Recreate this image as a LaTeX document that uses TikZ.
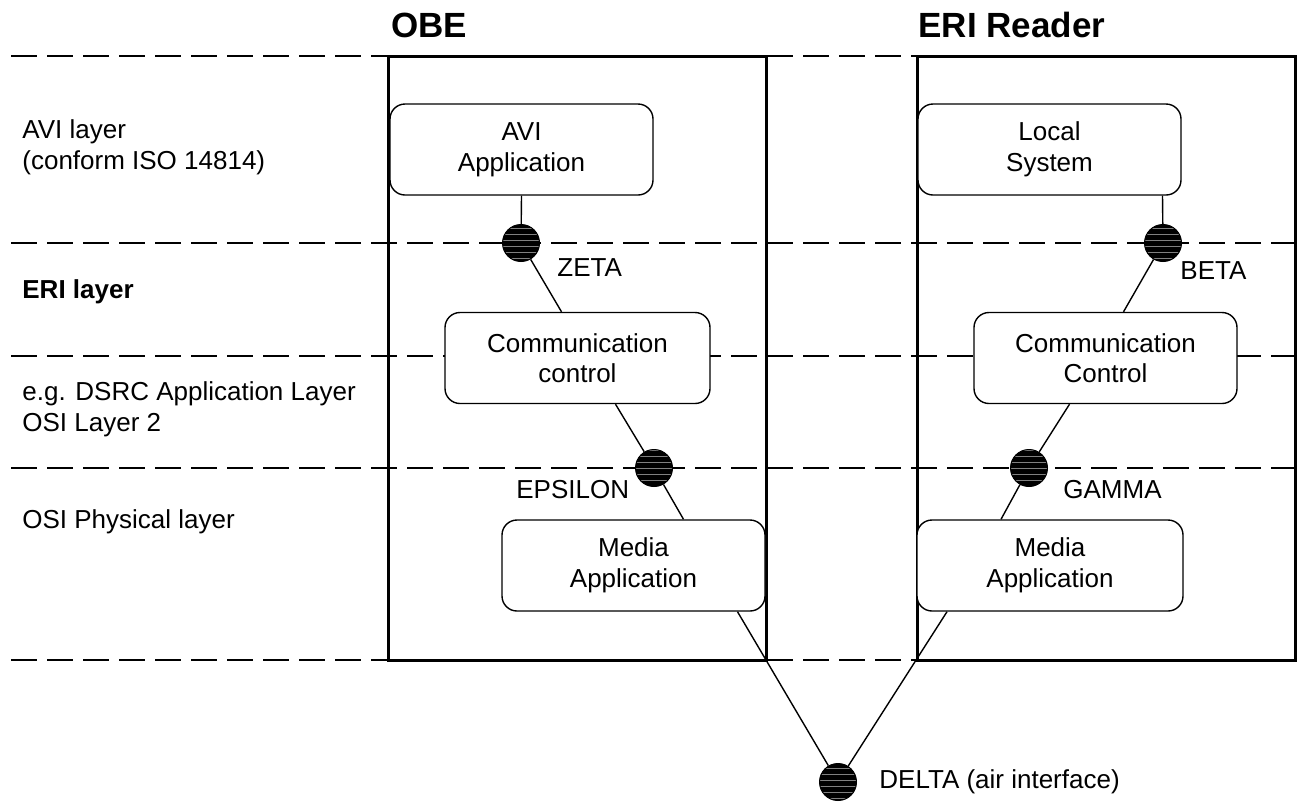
\documentclass[tikz,border=0pt]{standalone}
\usepackage{fontspec}
\setmainfont{Liberation Sans}
\usetikzlibrary{patterns}
\tikzset{
    %standard text size
    every node/.style={font=\fontsize{13}{15.3}\selectfont},
}

\begin{document}
\begin{tikzpicture}[x=0.5pt, y=-0.5pt]
	\tikzset{
	  app/.style={draw, fill=white,
	             shape=rectangle,
	             line width=0.7pt,
	             minimum width=131.5pt, minimum height=45.5pt,
	             align=center,
	             rounded corners=7.5pt},
	  frame/.style={draw, line width=1.5pt, minimum width=189pt,
	             minimum height=302pt, inner sep=0pt},
	  port/.style={circle, draw, line width=0.5pt,
	             preaction={fill=black},
	             pattern=horizontal lines, pattern color=black!50,
	             minimum size=18.5pt, inner sep=0pt},
	  lbl/.style={inner sep=0pt, anchor=west, align=left},
	  ttl/.style={inner sep=0pt, anchor=west,
	             font=\fontsize{17.5}{20}\selectfont\bfseries},
	  sep/.style={dash pattern=on 13pt off 5pt, line width=0.7pt}
	}
	\useasboundingbox (0,0) rectangle (1301,805);

	% layer separators
	\foreach \y in {56,243,356,468,660}
	  \draw[sep] (11,\y) -- (1301,\y);

	\node[frame] (obe) at (577,358) {};
	\node[frame] (eri) at (1106,358) {};
	\node[ttl] (obetitle) at (391,25) {OBE};
	\node[ttl] (erititle) at (918,25) {ERI Reader};

	\node[lbl] (avilayer) at (22,147) {AVI layer\\(conform ISO 14814)};
	\node[lbl, font=\fontsize{13}{15.3}\selectfont\bfseries] (erilayer) at (22,292) {ERI layer};
	\node[lbl] (dsrclayer) at (22,409) {e.g. DSRC Application Layer\\OSI Layer 2};
	\node[lbl] (physlayer) at (22,522) {OSI Physical layer};

	\node[app] (avi) at (521.5,149.5) {AVI\\Application};
	\node[app] (local) at (1049.5,149.5) {Local\\System};
	\node[app, minimum width=132.5pt] (comm) at (577.5,358) {Communication\\control};
	\node[app, minimum width=131.5pt] (commr) at (1105.5,358) {Communication\\Control};
	\node[app] (media) at (633.5,565.5) {Media\\Application};
	\node[app, minimum width=133pt] (mediar) at (1050,565.5) {Media\\Application};

	\node[port] (zeta) at (521,243) {};
	\node[port] (beta) at (1163,243) {};
	\node[port] (epsilon) at (654,468) {};
	\node[port] (gamma) at (1029,468) {};
	\node[port] (delta) at (838,782) {};

	\path[draw, line width=0.7pt]
	    (avi.south) edge (zeta)
	    (zeta) edge ([xshift=-8pt]comm.north)
	    ([xshift=19pt]comm.south) edge (epsilon)
	    (epsilon) edge ([xshift=25pt]media.north)
	    ([xshift=52pt]media.south) edge (delta)
	    ([xshift=56.5pt]local.south) edge (beta)
	    (beta) edge ([xshift=9pt]commr.north)
	    ([xshift=-18pt]commr.south) edge (gamma)
	    (gamma) edge ([xshift=-24.5pt]mediar.north)
	    ([xshift=-51.5pt]mediar.south) edge (delta);

	\node[lbl] (zetalbl) at (557,268) {ZETA};
	\node[lbl] (betalbl) at (1180,271) {BETA};
	\node[lbl] (epsilonlbl) at (516,490) {EPSILON};
	\node[lbl] (gammalbl) at (1063,490) {GAMMA};
	\node[lbl] (deltalbl) at (879,782) {DELTA (air interface)};
\end{tikzpicture}
\end{document}
